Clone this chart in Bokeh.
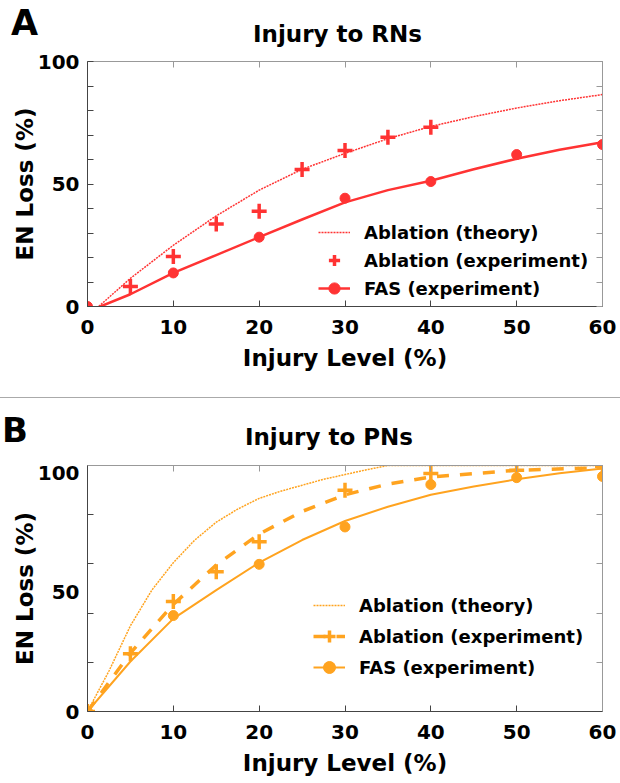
from bokeh.plotting import figure
from bokeh.models import (LinearAxis, FixedTicker, Legend, LegendItem, Div, Range1d)
from bokeh.layouts import column
from bokeh.embed import file_html
from bokeh.resources import INLINE

FONT = "DejaVu Sans"
RED = "#ff3333"
ORANGE = "#ffa31f"
DARK = "#444444"
LIGHT = "#999999"
W = 620

# ---------------- data ----------------
x_ticks = [0, 10, 20, 30, 40, 50, 60]
y_label_ticks = [0, 50, 100]
a_minor_y = [10, 20, 30, 40, 60, 70, 80, 90]
b_minor_y = [20.66, 41.32, 61.98, 82.64]

# Panel A: injury to RNs
a_theory_x = [1.3, 5, 10, 15, 20, 25, 30, 35, 40, 45, 50, 55, 60]
a_theory_y = [0, 11.5, 25, 37, 47.5, 56, 62.5, 68.5, 73.5, 77.5, 81, 84, 86.5]
a_abl_x = [5, 10, 15, 20, 25, 30, 35, 40]
a_abl_y = [8.2, 20.4, 33.7, 38.9, 55.9, 63.7, 69.1, 73.2]
a_fas_x = [0, 10, 20, 30, 40, 50, 60]
a_fas_y = [0, 13.7, 28.3, 44.2, 51, 62, 66.1]
a_fasfit_x = [1.5, 5, 10, 15, 20, 25, 30, 35, 40, 45, 50, 55, 60]
a_fasfit_y = [0, 5, 13.7, 21, 28.3, 35.5, 42.5, 47.5, 51.3, 56, 60.3, 64, 67]

# Panel B: injury to PNs
b_theory_x = [0, 2.5, 5, 7.5, 10, 12.5, 15, 17.5, 20, 22.5, 25, 27.5, 30, 32.5, 35, 40, 50, 60]
b_theory_y = [0, 17, 36, 51, 62.5, 72, 79.5, 85, 89.5, 92.5, 95, 97.5, 99.5, 101.5, 103.3, 103.3, 103.3, 103.3]
b_abl_x = [0, 5, 10, 15, 20, 30, 40, 50, 60]
b_abl_y = [0, 24.3, 46.2, 58.7, 71.3, 92.9, 99.9, 101.3, 103]
b_ablfit_x = [0, 5, 10, 15, 20, 25, 30, 35, 40, 50, 60]
b_ablfit_y = [0, 24.5, 45, 61.5, 74.5, 84, 91, 95.5, 98.5, 101.3, 102.4]
b_fas_x = [0, 10, 20, 30, 40, 50, 60]
b_fas_y = [0, 40.3, 61.8, 77.5, 95.3, 98.2, 98.7]
b_fasfit_x = [0, 5, 10, 15, 20, 25, 30, 35, 40, 45, 50, 55, 60]
b_fasfit_y = [0, 21, 39, 51, 62.5, 72, 80, 86, 91, 94.5, 97.5, 100, 102]

panel_letters = ["A", "B"]
panel_titles = ["Injury to RNs", "Injury to PNs"]
x_title = "Injury Level (%)"
y_title = "EN Loss (%)"
legend_labels = ["Ablation (theory)", "Ablation (experiment)", "FAS (experiment)"]


def style_axis(ax, color, show_labels=True, ticks=None):
    ax.axis_line_color = color
    ax.major_tick_in = 6
    ax.major_tick_out = 0
    ax.minor_tick_in = 6
    ax.minor_tick_out = 0
    ax.major_tick_line_color = color
    ax.minor_tick_line_color = color
    ax.major_label_text_font = FONT
    ax.major_label_text_font_style = "bold"
    ax.major_label_text_font_size = "20px"
    ax.major_label_text_color = "black"
    if not show_labels:
        ax.major_label_overrides = {t: "" for t in ticks}
        ax.major_label_text_font_size = "0px"
        ax.major_label_standoff = 0


def header(height, letter, letter_x, letter_top, letter_size, title, title_cx, title_top):
    html = (
        f'<div style="position:relative;width:{W}px;height:{height}px;'
        f'font-family:\'DejaVu Sans\';font-weight:bold;color:black;">'
        f'<span style="position:absolute;left:{letter_x}px;top:{letter_top}px;'
        f'font-size:{letter_size}px;line-height:1;white-space:nowrap;">{letter}</span>'
        f'<span style="position:absolute;left:{title_cx}px;top:{title_top}px;'
        f'font-size:23px;line-height:1;white-space:nowrap;transform:translateX(-50%);">{title}</span>'
        f'</div>'
    )
    return Div(text=html, width=W, height=height, margin=0)


def make_panel(height, top, bottom, ymax, minor_y, show_major_y_tick):
    p = figure(width=W, height=height, x_range=Range1d(0, 60), y_range=Range1d(0, ymax),
               output_backend="svg", toolbar_location=None,
               min_border_left=87, min_border_right=18,
               min_border_top=top, min_border_bottom=bottom,
               x_axis_location=None, y_axis_location=None)
    p.grid.visible = False
    p.outline_line_color = LIGHT

    xb = LinearAxis(ticker=FixedTicker(ticks=x_ticks))
    style_axis(xb, DARK)
    xb.major_label_standoff = 13
    xb.axis_label = x_title
    xb.axis_label_text_font = FONT
    xb.axis_label_text_font_style = "bold"
    xb.axis_label_text_font_size = "23px"
    xb.axis_label_text_color = "black"
    xb.axis_label_standoff = 8
    p.add_layout(xb, "below")

    xt = LinearAxis(ticker=FixedTicker(ticks=x_ticks))
    style_axis(xt, LIGHT, show_labels=False, ticks=x_ticks)
    p.add_layout(xt, "above")

    yl = LinearAxis(ticker=FixedTicker(ticks=y_label_ticks, minor_ticks=minor_y))
    style_axis(yl, DARK)
    yl.major_label_standoff = 8
    yl.axis_label = y_title
    yl.axis_label_text_font = FONT
    yl.axis_label_text_font_style = "bold"
    yl.axis_label_text_font_size = "23px"
    yl.axis_label_text_color = "black"
    yl.axis_label_standoff = -3
    if not show_major_y_tick:
        yl.major_tick_line_color = None
    p.add_layout(yl, "left")

    yr = LinearAxis(ticker=FixedTicker(ticks=y_label_ticks, minor_ticks=minor_y))
    style_axis(yr, LIGHT, show_labels=False, ticks=y_label_ticks)
    if not show_major_y_tick:
        yr.major_tick_line_color = None
    p.add_layout(yr, "right")
    return p


def make_legend(items, loc, glyph_h, spacing):
    return Legend(items=items, location=loc, glyph_width=32, glyph_height=glyph_h,
                  label_height=20, spacing=spacing, label_standoff=14,
                  padding=0, margin=0, background_fill_alpha=0, border_line_alpha=0,
                  label_text_font=FONT, label_text_font_style="bold",
                  label_text_font_size="18px", label_text_color="black")


# ---------------- Panel A ----------------
ha = header(50, panel_letters[0], 11, 6.4, 35, panel_titles[0], 337.5, 22.5)
pa = make_panel(347, 11, 91, 100, a_minor_y, True)
ra_theory = pa.line(a_theory_x, a_theory_y, line_color=RED, line_width=1.5, line_dash="2 1")
ra_fasfit = pa.line(a_fasfit_x, a_fasfit_y, line_color=RED, line_width=2.5)
ra_abl = pa.scatter(a_abl_x, a_abl_y, marker="cross", size=15, line_width=3.5, line_color=RED)
ra_fas = pa.scatter(a_fas_x, a_fas_y, marker="circle", size=10, fill_color=RED, line_color=RED)
pa.add_layout(make_legend([
    LegendItem(label=legend_labels[0], renderers=[ra_theory]),
    LegendItem(label=legend_labels[1], renderers=[ra_abl]),
    LegendItem(label=legend_labels[2], renderers=[ra_fasfit, ra_fas]),
], (231, 4), 28, 0))

sep = Div(text="", width=W, height=1, margin=0, styles={"background-color": "#aaaaaa"})

# ---------------- Panel B ----------------
hb = header(56, panel_letters[1], 2, 15.2, 34, panel_titles[1], 329, 27.5)
pb = make_panel(329, 11, 72, 103.3, b_minor_y, False)
rb_theory = pb.line(b_theory_x, b_theory_y, line_color=ORANGE, line_width=1.5, line_dash="2 1")
rb_ablfit = pb.line(b_ablfit_x, b_ablfit_y, line_color=ORANGE, line_width=3.5, line_dash="12 11")
rb_fasfit = pb.line(b_fasfit_x, b_fasfit_y, line_color=ORANGE, line_width=2)
rb_abl = pb.scatter(b_abl_x, b_abl_y, marker="cross", size=15, line_width=3.5, line_color=ORANGE)
rb_fas = pb.scatter(b_fas_x, b_fas_y, marker="circle", size=10, fill_color=ORANGE, line_color=ORANGE)
pb.add_layout(make_legend([
    LegendItem(label=legend_labels[0], renderers=[rb_theory]),
    LegendItem(label=legend_labels[1], renderers=[rb_ablfit, rb_abl]),
    LegendItem(label=legend_labels[2], renderers=[rb_fasfit, rb_fas]),
], (226, 29), 30, 1))

layout = column(ha, pa, sep, hb, pb, spacing=0)
open("out.html", "w").write(file_html(layout, INLINE))
